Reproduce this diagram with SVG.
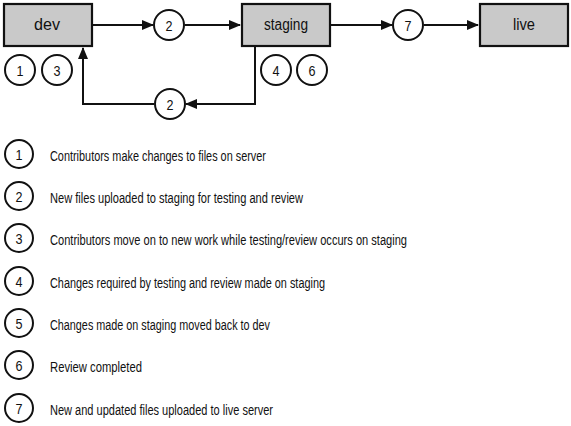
<svg xmlns="http://www.w3.org/2000/svg" width="571" height="426" viewBox="0 0 571 426">
<defs>
<marker id="ah" markerWidth="12" markerHeight="10" refX="11" refY="5" orient="auto" markerUnits="userSpaceOnUse">
<path d="M0,0 L12,5 L0,10 Z" fill="#111"/>
</marker>
<style>
.box{fill:#c9c9c9;stroke:#111;stroke-width:2.2}
.c{fill:#fff;stroke:#111;stroke-width:2}
.t{font-family:"Liberation Sans",Arial,sans-serif;font-size:16px;fill:#111;text-anchor:middle;dominant-baseline:central}
.n{font-family:"Liberation Sans",Arial,sans-serif;font-size:15px;fill:#111;text-anchor:middle;dominant-baseline:central}
.l{font-family:"Liberation Sans",Arial,sans-serif;font-size:15.5px;fill:#111;dominant-baseline:central}
.e{fill:none;stroke:#111;stroke-width:2}
</style>
</defs>
<rect width="571" height="426" fill="#fff"/>
<g id="connectors">
<line class="e" x1="93" y1="25" x2="153" y2="25" marker-end="url(#ah)"/>
<line class="e" x1="185" y1="25" x2="240" y2="25" marker-end="url(#ah)"/>
<line class="e" x1="331" y1="25" x2="392" y2="25" marker-end="url(#ah)"/>
<line class="e" x1="424" y1="25" x2="478" y2="25" marker-end="url(#ah)"/>
<polyline class="e" points="255,46 255,104 186,104" marker-end="url(#ah)"/>
<polyline class="e" points="154,104 83,104 83,48" marker-end="url(#ah)"/>
</g>
<g id="node-dev"><rect class="box" x="4" y="4" width="88" height="42"/><text class="t" x="47" y="24" textLength="26" lengthAdjust="spacingAndGlyphs">dev</text></g>
<g id="node-staging"><rect class="box" x="242" y="4" width="88" height="42"/><text class="t" x="286" y="24" textLength="44" lengthAdjust="spacingAndGlyphs">staging</text></g>
<g id="node-live"><rect class="box" x="480" y="4" width="88" height="42"/><text class="t" x="524" y="24" textLength="22" lengthAdjust="spacingAndGlyphs">live</text></g>
<g id="step-2-top"><circle class="c" cx="169" cy="25" r="15"/><text class="n" x="169" y="25" textLength="7" lengthAdjust="spacingAndGlyphs">2</text></g>
<g id="step-7-top"><circle class="c" cx="408" cy="25" r="15"/><text class="n" x="408" y="25" textLength="7" lengthAdjust="spacingAndGlyphs">7</text></g>
<g id="step-2-back"><circle class="c" cx="170" cy="104" r="15"/><text class="n" x="170" y="104" textLength="7" lengthAdjust="spacingAndGlyphs">2</text></g>
<g id="step-1-top"><circle class="c" cx="20" cy="70" r="15"/><text class="n" x="20" y="70" textLength="7" lengthAdjust="spacingAndGlyphs">1</text></g>
<g id="step-3-top"><circle class="c" cx="57" cy="70" r="15"/><text class="n" x="57" y="70" textLength="7" lengthAdjust="spacingAndGlyphs">3</text></g>
<g id="step-4-top"><circle class="c" cx="276" cy="70" r="15"/><text class="n" x="276" y="70" textLength="7" lengthAdjust="spacingAndGlyphs">4</text></g>
<g id="step-6-top"><circle class="c" cx="312" cy="70" r="15"/><text class="n" x="312" y="70" textLength="7" lengthAdjust="spacingAndGlyphs">6</text></g>
<g id="legend">
<g id="legend-1"><circle class="c" cx="19" cy="154" r="14"/><text class="n" x="19" y="154" textLength="7" lengthAdjust="spacingAndGlyphs">1</text><text class="l" x="50" y="155" textLength="216" lengthAdjust="spacingAndGlyphs">Contributors make changes to files on server</text></g>
<g id="legend-2"><circle class="c" cx="19" cy="196" r="14"/><text class="n" x="19" y="196" textLength="7" lengthAdjust="spacingAndGlyphs">2</text><text class="l" x="50" y="197" textLength="253" lengthAdjust="spacingAndGlyphs">New files uploaded to staging for testing and review</text></g>
<g id="legend-3"><circle class="c" cx="19" cy="238" r="14"/><text class="n" x="19" y="238" textLength="7" lengthAdjust="spacingAndGlyphs">3</text><text class="l" x="50" y="239" textLength="357" lengthAdjust="spacingAndGlyphs">Contributors move on to new work while testing/review occurs on staging</text></g>
<g id="legend-4"><circle class="c" cx="19" cy="281" r="14"/><text class="n" x="19" y="281" textLength="7" lengthAdjust="spacingAndGlyphs">4</text><text class="l" x="50" y="282" textLength="275" lengthAdjust="spacingAndGlyphs">Changes required by testing and review made on staging</text></g>
<g id="legend-5"><circle class="c" cx="19" cy="323" r="14"/><text class="n" x="19" y="323" textLength="7" lengthAdjust="spacingAndGlyphs">5</text><text class="l" x="50" y="324" textLength="220" lengthAdjust="spacingAndGlyphs">Changes made on staging moved back to dev</text></g>
<g id="legend-6"><circle class="c" cx="19" cy="365" r="14"/><text class="n" x="19" y="365" textLength="7" lengthAdjust="spacingAndGlyphs">6</text><text class="l" x="50" y="366" textLength="92" lengthAdjust="spacingAndGlyphs">Review completed</text></g>
<g id="legend-7"><circle class="c" cx="19" cy="408" r="14"/><text class="n" x="19" y="408" textLength="7" lengthAdjust="spacingAndGlyphs">7</text><text class="l" x="50" y="409" textLength="223" lengthAdjust="spacingAndGlyphs">New and updated files uploaded to live server</text></g>
</g>
</svg>
